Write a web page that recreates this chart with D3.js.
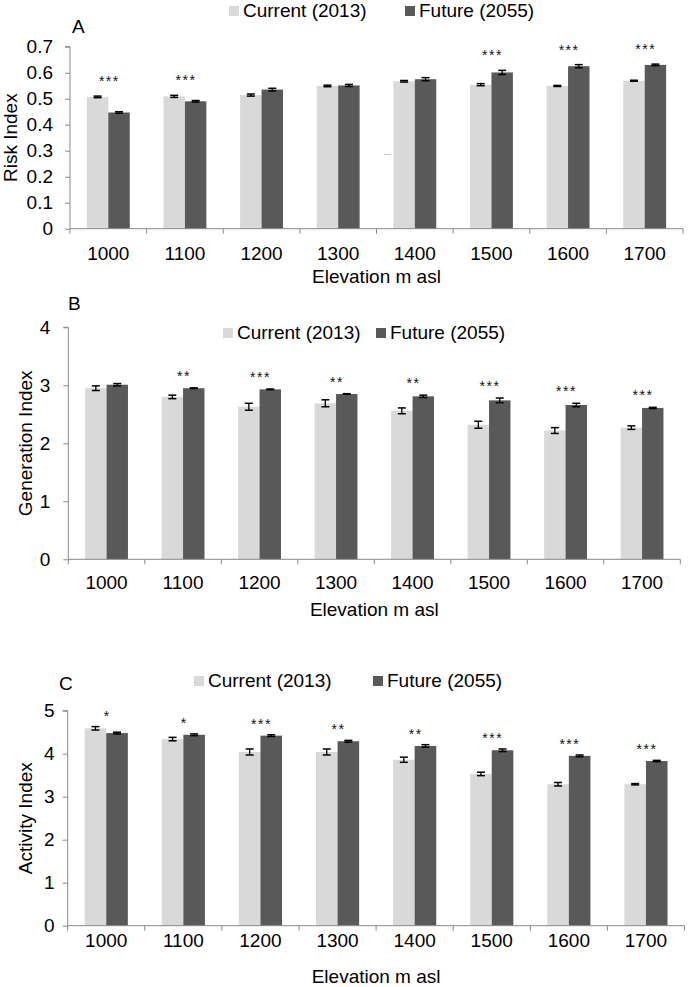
<!DOCTYPE html>
<html><head><meta charset="utf-8">
<script src="https://cdn.jsdelivr.net/npm/d3@7"></script>
<style>body{margin:0;background:#fff}svg{display:block;font-family:"Liberation Sans",Arial,sans-serif}</style>
</head><body>
<svg id="c" width="689" height="987"></svg>
<script>
// ---- data ----
const elevations = ["1000","1100","1200","1300","1400","1500","1600","1700"];
const seriesNames = ["Current (2013)", "Future (2055)"];

const riskCurrent   = [0.507, 0.509, 0.514, 0.549, 0.567, 0.554, 0.549, 0.569];
const riskCurrentErr= [0.003, 0.004, 0.004, 0.003, 0.003, 0.004, 0.002, 0.002];
const riskFuture    = [0.447, 0.490, 0.535, 0.551, 0.575, 0.601, 0.625, 0.630];
const riskFutureErr = [0.003, 0.003, 0.005, 0.004, 0.006, 0.008, 0.006, 0.003];
const riskStars     = ["***","***","","","","***","***","***"];
const riskTicks     = [0,0.1,0.2,0.3,0.4,0.5,0.6,0.7];

const genCurrent    = [2.95, 2.80, 2.63, 2.69, 2.56, 2.32, 2.22, 2.27];
const genCurrentErr = [0.04, 0.03, 0.06, 0.06, 0.05, 0.06, 0.05, 0.03];
const genFuture     = [3.01, 2.95, 2.93, 2.85, 2.81, 2.74, 2.66, 2.61];
const genFutureErr  = [0.02, 0.005, 0.005, 0.005, 0.02, 0.04, 0.03, 0.01];
const genStars      = ["","**","***","**","**","***","***","***"];
const genTicks      = [0,1,2,3,4];

const actCurrent    = [4.59, 4.34, 4.04, 4.04, 3.86, 3.53, 3.29, 3.29];
const actCurrentErr = [0.04, 0.04, 0.07, 0.07, 0.06, 0.04, 0.04, 0.015];
const actFuture     = [4.48, 4.44, 4.42, 4.29, 4.18, 4.08, 3.95, 3.83];
const actFutureErr  = [0.02, 0.02, 0.02, 0.02, 0.03, 0.03, 0.02, 0.015];
const actStars      = ["*","*","***","**","**","***","***","***"];
const actTicks      = [0,1,2,3,4,5];

const panelLetters  = ["A","B","C"];
const yTitles       = ["Risk Index","Generation Index","Activity Index"];
const xTitle        = "Elevation m asl";

// ---- layout ----
const colors = ["#d9d9d9", "#595959"];
const axisColor = "#898989";
const FS = 19;
const fmtRisk = v => v === 0 ? "0" : d3.format(".1f")(v);
const panels = [
  {cur:riskCurrent, curE:riskCurrentErr, fut:riskFuture, futE:riskFutureErr, stars:riskStars, ticks:riskTicks, fmt:fmtRisk,
   x0:70, x1:683, yTop:46.7, yBot:228.7, tickLabGap:17, yTitleX:10, xLabBase:260, xTitleBase:283, starGap:10,
   letterX:72, letterBase:33, legBase:17, leg1X:229, leg2X:405},
  {cur:genCurrent, curE:genCurrentErr, fut:genFuture, futE:genFutureErr, stars:genStars, ticks:genTicks, fmt:d3.format("d"),
   x0:68.3, x1:680.3, yTop:327.3, yBot:559.3, tickLabGap:18, yTitleX:25, xLabBase:589, xTitleBase:616, starGap:7,
   letterX:68, letterBase:310, legBase:339, leg1X:223, leg2X:376},
  {cur:actCurrent, curE:actCurrentErr, fut:actFuture, futE:actFutureErr, stars:actStars, ticks:actTicks, fmt:d3.format("d"),
   x0:67.7, x1:684.5, yTop:710.7, yBot:925.7, tickLabGap:13, yTitleX:25, xLabBase:947, xTitleBase:983, starGap:6,
   letterX:59, letterBase:690, legBase:687, leg1X:194, leg2X:373}
];

const svg = d3.select("#c");

panels.forEach((p, pi) => {
  const g = svg.append("g");
  const ymax = p.ticks[p.ticks.length-1];
  const y = d3.scaleLinear().domain([0, ymax]).range([p.yBot, p.yTop]);
  const x = d3.scaleBand().domain(elevations).range([p.x0, p.x1]).paddingInner(0.44).paddingOuter(0.22);
  const xs = d3.scaleBand().domain([0,1]).range([0, x.bandwidth()]);
  const step = x.step();

  // bars
  const rows = elevations.map((e, i) => ({e, i, vals:[p.cur[i], p.fut[i]], errs:[p.curE[i], p.futE[i]]}));
  const grp = g.selectAll("g.cat").data(rows).join("g").attr("transform", d => `translate(${x(d.e)},0)`);
  grp.selectAll("rect").data(d => d.vals.map((v, k) => ({v, k}))).join("rect")
    .attr("x", d => xs(d.k)).attr("width", xs.bandwidth())
    .attr("y", d => y(d.v)).attr("height", d => y(0) - y(d.v))
    .attr("fill", d => colors[d.k]);
  // error bars
  grp.each(function(d) {
    const gg = d3.select(this);
    d.vals.forEach((v, k) => {
      const cx = xs(k) + xs.bandwidth()/2;
      const lo = y(v - d.errs[k]), hi = y(v + d.errs[k]);
      gg.append("line").attr("x1", cx).attr("x2", cx).attr("y1", lo).attr("y2", hi).attr("stroke", "#000").attr("stroke-width", 1.3);
      [lo, hi].forEach(yy => gg.append("line").attr("x1", cx-4).attr("x2", cx+4).attr("y1", yy).attr("y2", yy).attr("stroke", "#000").attr("stroke-width", 1.5));
    });
  });
  // stars
  g.selectAll("text.star").data(rows.filter(d => p.stars[d.i])).join("text")
    .attr("x", d => x(d.e) + x.bandwidth()/2 + 1)
    .attr("y", d => y(Math.max(d.vals[0]+d.errs[0], d.vals[1]+d.errs[1])) - p.starGap)
    .attr("text-anchor", "middle").attr("font-size", 14).attr("letter-spacing", 1.5)
    .attr("fill", "#111").text(d => p.stars[d.i]);

  // y axis
  const yAxis = d3.axisLeft(y).tickValues(p.ticks).tickFormat(p.fmt).tickSize(5).tickPadding(p.tickLabGap - 5);
  const ya = g.append("g").attr("transform", `translate(${p.x0},0)`).call(yAxis);
  ya.select(".domain").attr("stroke", axisColor).attr("d", `M-5,${y(ymax)}H0V${y(0)}`);
  ya.selectAll(".tick line").attr("stroke", axisColor);
  ya.selectAll(".tick text").attr("font-size", FS).attr("fill", "#000").attr("font-family", "Liberation Sans, Arial, sans-serif");

  // x axis
  const xa = g.append("g").attr("transform", `translate(0,${p.yBot})`);
  xa.append("line").attr("x1", p.x0).attr("x2", p.x1).attr("y1", 0).attr("y2", 0).attr("stroke", axisColor);
  const bounds = d3.range(elevations.length + 1).map(i => p.x0 + i*step);
  xa.selectAll("line.tk").data(bounds).join("line").attr("class","tk")
    .attr("x1", d => d).attr("x2", d => d).attr("y1", 0).attr("y2", 5).attr("stroke", axisColor);
  g.selectAll("text.xl").data(elevations).join("text").attr("class","xl")
    .attr("x", d => x(d) + x.bandwidth()/2).attr("y", p.xLabBase)
    .attr("text-anchor", "middle").attr("font-size", FS).text(d => d);

  // titles
  g.append("text").attr("x", (p.x0 + p.x1)/2).attr("y", p.xTitleBase).attr("text-anchor", "middle")
    .attr("font-size", FS).text(xTitle);
  g.append("text").attr("transform", `translate(${p.yTitleX},${(p.yTop+p.yBot)/2}) rotate(-90)`)
    .attr("text-anchor", "middle").attr("dominant-baseline", "central").attr("font-size", FS).text(yTitles[pi]);
  g.append("text").attr("x", p.letterX).attr("y", p.letterBase).attr("font-size", FS).text(panelLetters[pi]);

  // legend
  [p.leg1X, p.leg2X].forEach((lx, k) => {
    g.append("rect").attr("x", lx).attr("y", p.legBase - 11).attr("width", 10).attr("height", 10).attr("fill", colors[k]);
    g.append("text").attr("x", lx + 14).attr("y", p.legBase).attr("font-size", FS).text(seriesNames[k]);
  });
});

// small stray mark present in the original panel A
svg.append("line").attr("x1", 384).attr("x2", 391).attr("y1", 154.5).attr("y2", 154.5).attr("stroke", "#c8c8c8").attr("stroke-width", 1);
</script>
</body></html>
